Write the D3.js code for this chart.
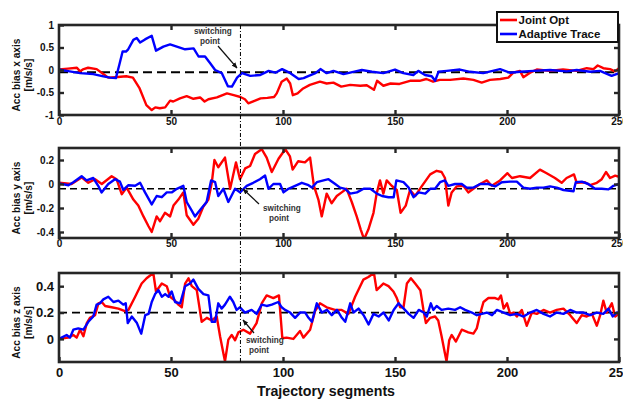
<!DOCTYPE html>
<html>
<head>
<meta charset="utf-8">
<script src="https://cdn.jsdelivr.net/npm/d3@7"></script>
<style>
  body { margin: 0; background: #fff; }
  svg { display: block; font-family: "Liberation Sans", Arial, sans-serif; font-weight: bold; }
</style>
</head>
<body>
<svg id="chart" width="623" height="402"></svg>
<script>
// ---- data: [trajectory segment, bias] ----
const jointX = [[0,0.01],[4,0.03],[8,0.05],[9.4,-0.03],[11,0.02],[13,0.05],[16.8,0.02],[19.8,-0.09],[22,-0.17],[25,-0.16],[30,-0.14],[33,-0.17],[36,-0.41],[39,-0.78],[41.4,-0.89],[43,-0.83],[45,-0.85],[47.4,-0.83],[49.6,-0.68],[51,-0.7],[54,-0.63],[57,-0.58],[60,-0.64],[63,-0.61],[65,-0.7],[66.7,-0.65],[70.5,-0.61],[75,-0.52],[78,-0.56],[81,-0.6],[83,-0.65],[84.5,-0.74],[87,-0.69],[90,-0.63],[93,-0.62],[96,-0.6],[97.2,-0.52],[99.4,-0.26],[101.7,-0.19],[103.2,-0.3],[104.4,-0.56],[106.5,-0.52],[109,-0.41],[112,-0.33],[116.5,-0.26],[119.5,-0.3],[122.5,-0.28],[126,-0.37],[130,-0.33],[134.5,-0.35],[137.4,-0.34],[140.6,-0.44],[142,-0.24],[144.8,-0.35],[148,-0.3],[152,-0.31],[156.7,-0.24],[161,-0.24],[164,-0.2],[167,-0.26],[170,-0.22],[174.6,-0.22],[180.5,-0.19],[185,-0.22],[188.7,-0.28],[192.4,-0.22],[197,-0.2],[200.6,-0.17],[202.8,-0.06],[205.8,-0.02],[207.3,-0.16],[210.3,-0.06],[213.3,0.01],[219,-0.02],[225,0.01],[231,-0.02],[235.6,0.04],[238.6,0.02],[240.5,0.1],[243,0.04],[246,0.02],[248.2,-0.03],[250,0.04]];
const adaptX = [[0,0.01],[3.4,-0.02],[9.4,-0.07],[15.3,-0.09],[19.8,-0.14],[22.8,-0.17],[25.4,-0.18],[26.9,0.11],[28.4,0.41],[29.9,0.41],[30.9,0.46],[33.2,0.67],[34.7,0.71],[36.2,0.61],[38.4,0.68],[41.4,0.76],[43.3,0.43],[46.6,0.52],[49.6,0.57],[52.6,0.52],[56.3,0.46],[60.1,0.48],[62.3,0.3],[65.2,0.3],[67.5,0.15],[69.7,0],[72.7,-0.07],[75.4,-0.36],[77.2,-0.37],[79.5,-0.17],[81.7,-0.07],[85.4,-0.13],[89.9,-0.11],[93.6,-0.02],[96.6,-0.06],[99.6,0.02],[103.3,-0.07],[107,-0.2],[109.2,-0.18],[111.5,-0.13],[114.5,-0.07],[116.7,0.02],[119.5,-0.07],[122.5,-0.02],[127,-0.09],[131.4,-0.04],[135.2,0],[139.7,-0.04],[144.8,-0.07],[150,0.01],[153.7,-0.07],[158.2,-0.11],[160.4,-0.02],[163.4,-0.11],[166.4,-0.14],[167.9,-0.24],[169.4,-0.04],[173.1,-0.02],[179,0.01],[183.5,-0.04],[189.4,-0.07],[196.9,0.02],[201.3,-0.06],[205.8,-0.04],[211.8,-0.02],[219.2,0],[226.7,-0.03],[231.1,0],[237.1,-0.04],[241.5,-0.02],[246.7,-0.13],[250,-0.07]];

const jointY = [[0,0.01],[5.6,0],[10.1,0.055],[13.1,0.01],[16.1,0.04],[19.1,0],[23.5,0.065],[25.7,0.04],[28,-0.085],[30.2,-0.03],[33.2,-0.13],[35.4,-0.18],[37.7,-0.27],[39.9,-0.35],[41.4,-0.4],[43.6,-0.27],[45.1,-0.31],[47.3,-0.24],[49.6,-0.27],[51.1,-0.18],[53.3,-0.13],[55.5,-0.07],[57,-0.26],[60,-0.34],[62.2,-0.29],[64.4,-0.19],[66.7,-0.13],[68.2,0.01],[69.4,0.2],[71.1,0.14],[74.1,0.22],[76.4,-0.04],[79,0.18],[80.8,0.04],[83.1,0.13],[85.3,0.15],[87.5,0.25],[90.5,0.29],[92.7,0.22],[95,0.1],[98,0.21],[101,0.29],[103.1,0.23],[104.3,0.12],[106.8,0.19],[109.8,0.18],[112.1,0.22],[113.8,-0.015],[115.8,-0.13],[117.3,-0.27],[119.5,-0.08],[121.7,-0.16],[124,-0.1],[126.2,-0.07],[128.4,-0.04],[130.7,-0.15],[132.9,-0.27],[134.7,-0.38],[136.2,-0.46],[138.1,-0.38],[140.4,-0.24],[141.8,-0.08],[143.3,0.03],[144.8,-0.08],[146.3,0.03],[148.5,-0.015],[150.8,-0.05],[152.5,-0.24],[154.8,-0.18],[156.7,-0.05],[159,-0.1],[161.9,-0.02],[165.7,0.08],[168.6,0.11],[170.8,0.1],[172.3,0.05],[173.8,-0.18],[175.3,-0.07],[177.5,-0.02],[180.5,-0.015],[182.7,-0.07],[185,-0.04],[188,0],[191,0.03],[193.2,-0.015],[196.9,0.03],[200.2,0.09],[202.2,0.05],[205.8,0.065],[210.3,0.05],[214.7,0.12],[217.7,0.09],[221.4,0.05],[224.4,0.01],[226.6,0.05],[229.9,0.08],[231.1,0.01],[234.8,0.015],[237.1,-0.01],[240.1,0.01],[242.3,0.04],[244.2,0.1],[246,0.05],[248.3,0.07],[250,0.06]];
const adaptY = [[0,0.005],[4.2,-0.01],[6.4,0.015],[10.1,0.065],[12.3,0.03],[15.3,0.05],[17.5,-0.015],[19,-0.07],[22,0],[25,0.04],[27.2,0.02],[28.7,-0.05],[31,-0.01],[34,-0.015],[36.2,0.01],[38.4,-0.07],[41.4,-0.17],[43.6,-0.1],[45.9,-0.11],[48.1,-0.07],[50.3,-0.07],[52.6,-0.04],[55.5,-0.015],[57,-0.15],[59.2,-0.22],[60.7,-0.27],[63.7,-0.2],[65.9,-0.15],[67.9,0.03],[69.7,0.015],[71.1,-0.1],[73.4,-0.04],[75.6,-0.15],[78.6,-0.04],[80.8,-0.07],[83.8,-0.015],[86.7,0.01],[89.7,0.04],[92,0.07],[93.5,-0.04],[95.7,0],[98.7,0],[100.2,-0.07],[102.4,-0.04],[105.4,-0.015],[108.4,0.01],[111.4,-0.01],[112.9,-0.03],[115.1,0.015],[118.1,0.03],[120.3,0.04],[123.3,0],[125.5,-0.03],[127.8,-0.04],[130,-0.08],[133,-0.07],[136,-0.04],[139,-0.04],[141.9,-0.08],[144.2,-0.1],[147.1,-0.11],[149.4,-0.11],[150.6,0.03],[153.8,0.015],[156.1,-0.03],[158.3,-0.11],[160.6,-0.07],[163.5,-0.08],[165.7,-0.04],[167.9,-0.04],[170.1,0.015],[172.3,0.03],[173.8,-0.015],[176.8,0],[179.8,0],[182,-0.03],[185,-0.03],[188,0],[191.7,0],[194.7,-0.02],[197.7,0.015],[201.4,0.02],[204.4,0.02],[207.3,-0.03],[210.3,-0.04],[213.3,-0.03],[216.3,-0.03],[219.2,-0.02],[222.2,-0.03],[225.2,-0.05],[229.7,-0.06],[230.7,0.015],[233.4,0.02],[236.3,0],[239.3,-0.04],[242.3,-0.04],[245.3,-0.045],[247.5,-0.015],[250,0]];

const jointZ = [[0,0],[4.2,0.01],[6.4,0.03],[7.9,0.01],[9.4,0.07],[10.9,0.02],[12.4,0.12],[13.8,0.16],[16.1,0.18],[17.6,0.27],[19.1,0.28],[20.6,0.25],[23.5,0.24],[26.5,0.23],[29.5,0.21],[31,0.22],[34,0.32],[36.9,0.42],[39.1,0.46],[42.1,0.5],[43.3,0.36],[45.9,0.42],[48.1,0.4],[49.6,0.32],[51.8,0.29],[53.3,0.26],[54.8,0.24],[56.3,0.42],[57.8,0.46],[59.3,0.4],[61.5,0.37],[63.7,0.13],[66,0.16],[68.2,0.14],[70.4,0.17],[71.9,0.02],[73.4,-0.11],[74.1,-0.17],[75.6,-0.005],[77.1,0.03],[78.6,-0.01],[80.1,0.05],[82.3,0.07],[85.3,0.04],[88.2,0.12],[90.5,0.27],[92.7,0.33],[95.7,0.31],[98.2,0.33],[99.7,0.005],[101.6,0.01],[104.6,0],[107.6,0.06],[109.1,0.01],[112.1,0.07],[114.3,0.21],[116.5,0.27],[119.5,0.24],[123.2,0.22],[126.2,0.22],[129.2,0.19],[132.2,0.32],[135.9,0.45],[138.1,0.47],[140.6,0.5],[141.8,0.37],[144.8,0.42],[147.1,0.4],[149.3,0.36],[150.8,0.31],[152.3,0.24],[153.8,0.24],[155.3,0.42],[157.1,0.46],[159,0.42],[161.3,0.37],[162.7,0.22],[163.8,0.12],[165.7,0.16],[167.9,0.17],[169.3,0.14],[170.8,0.02],[172.3,-0.11],[173,-0.17],[174.2,-0.01],[175.3,0.03],[177.2,-0.02],[179.8,0.07],[182.7,0.05],[185,0.04],[186.5,0.08],[188,0.19],[189.5,0.28],[191.7,0.31],[194.7,0.31],[196.2,0.3],[197.3,0.33],[198.5,0.23],[200,0.27],[201.4,0.19],[202.9,0.2],[204.4,0.17],[206.6,0.22],[208.8,0.1],[211.1,0.2],[213.3,0.19],[216.3,0.22],[219.2,0.2],[222.2,0.22],[225.2,0.23],[228.2,0.18],[231.1,0.12],[233.4,0.18],[235.6,0.17],[237.9,0.19],[240.1,0.1],[241.6,0.18],[243,0.29],[244.5,0.2],[246.8,0.27],[248.3,0.17],[250,0.19]];
const adaptZ = [[0,0],[3.4,0.03],[4.9,0.01],[6.4,0.07],[8.6,0.08],[10.9,0.07],[13.1,0.13],[15.3,0.17],[16.8,0.26],[18.3,0.27],[19.8,0.3],[22,0.32],[24.3,0.28],[26.5,0.29],[28.7,0.26],[29.8,0.27],[30.7,0.12],[32.5,0.17],[34.8,0.12],[36.7,0.04],[38.5,0.18],[40,0.19],[41.4,0.28],[42.9,0.34],[44.4,0.37],[45.9,0.32],[47.4,0.34],[48.9,0.32],[50.3,0.36],[51.8,0.28],[54.1,0.27],[56.3,0.4],[58.5,0.42],[60,0.45],[62.2,0.38],[64.5,0.34],[66.7,0.33],[68.2,0.13],[69.7,0.13],[71.1,0.27],[72.6,0.23],[74.1,0.26],[76.3,0.32],[77.8,0.28],[79.3,0.22],[80.8,0.24],[83,0.2],[86,0.22],[88.2,0.19],[90.5,0.26],[92.7,0.25],[95,0.26],[97.9,0.28],[99.4,0.24],[100.9,0.22],[103.2,0.2],[105.4,0.16],[107.6,0.2],[109.9,0.2],[111.4,0.16],[112.9,0.13],[115.1,0.27],[117.4,0.2],[119.6,0.22],[121.8,0.18],[124.1,0.22],[126.3,0.16],[127.8,0.13],[130,0.27],[131.5,0.2],[133.7,0.23],[136,0.18],[138.2,0.11],[140.4,0.19],[142.7,0.17],[144.9,0.2],[147.2,0.14],[149.4,0.22],[151.6,0.27],[153.9,0.23],[156.1,0.19],[158.3,0.16],[160.6,0.22],[162.8,0.2],[164.2,0.17],[166,0.27],[167.1,0.22],[168.6,0.25],[170.8,0.22],[173.8,0.23],[176.8,0.22],[179.1,0.24],[181.3,0.22],[184.3,0.2],[186.5,0.18],[188.8,0.19],[191,0.2],[193.3,0.18],[195.5,0.22],[198.5,0.2],[201.4,0.18],[204.4,0.19],[207.4,0.17],[210.3,0.2],[213.3,0.22],[216.3,0.19],[219.2,0.17],[222.2,0.2],[225.2,0.19],[228.2,0.22],[231.1,0.2],[234.1,0.2],[237.1,0.18],[240.1,0.2],[243,0.19],[245.3,0.23],[247.2,0.17],[249,0.2],[250,0.2]];

// reference (dashed) level of each axis, and switching segment
const refLevels = [-0.05, -0.04, 0.2];
const switchSeg = 81;

const xTicks = [0, 50, 100, 150, 200, 250];
const yTicksX = [-1, -0.5, 0, 0.5, 1];
const yTicksY = [-0.4, -0.2, 0, 0.2];
const yTicksZ = [0, 0.2, 0.4];
const axisNames = ["Acc bias x axis", "Acc bias y axis", "Acc bias z axis"];
const seriesNames = ["Joint Opt", "Adaptive Trace"];
const seriesColors = ["#ff0000", "#0000ff"];

// ---- layout ----
const svg = d3.select("#chart");
const left = 59, right = 619;
const x = d3.scaleLinear().domain([0, 250]).range([left, right]);

const panels = [
  { top: 25,  bottom: 115, domain: [-1, 1],      ticks: yTicksX, joint: jointX, adapt: adaptX, fs: 10, xPad: 3, dash: "9,5", dw: 2 },
  { top: 148, bottom: 238, domain: [-0.45, 0.3], ticks: yTicksY, joint: jointY, adapt: adaptY, fs: 10, xPad: 2, dash: "7,4", dw: 1.6 },
  { top: 273, bottom: 362, domain: [-0.175, 0.5], ticks: yTicksZ, joint: jointZ, adapt: adaptZ, fs: 13, xPad: 6, dash: "8,5", dw: 1.8 }
];

const frameColor = "#262626";

panels.forEach((p, i) => {
  const y = d3.scaleLinear().domain(p.domain).range([p.bottom, p.top]);
  const g = svg.append("g");

  g.append("clipPath").attr("id", "clip" + i)
    .append("rect").attr("x", left).attr("y", p.top)
    .attr("width", right - left).attr("height", p.bottom - p.top);

  const plot = g.append("g").attr("clip-path", `url(#clip${i})`);

  // dashed reference level
  plot.append("line")
    .attr("x1", x(0)).attr("x2", x(250))
    .attr("y1", y(refLevels[i])).attr("y2", y(refLevels[i]))
    .attr("stroke", "#000").attr("stroke-width", p.dw)
    .attr("stroke-dasharray", p.dash);

  const line = d3.line().x(d => x(d[0])).y(d => y(d[1]));
  [p.joint, p.adapt].forEach((s, k) => {
    plot.append("path").datum(s)
      .attr("d", line)
      .attr("fill", "none")
      .attr("stroke", seriesColors[k])
      .attr("stroke-width", 2.4)
      .attr("stroke-linejoin", "round");
  });

  // axes with inward ticks, mirrored on top/right
  const fmt = d => String(d);
  const styleAxis = sel => {
    sel.select(".domain").remove();
    sel.selectAll("line").attr("stroke", frameColor).attr("stroke-width", 2.4);
    sel.selectAll("text").attr("fill", "#111").attr("font-size", p.fs)
      .attr("font-family", '"Liberation Sans", Arial, sans-serif').attr("font-weight", "bold");
  };
  g.append("g").attr("transform", `translate(0,${p.bottom})`)
    .call(d3.axisBottom(x).tickValues(xTicks).tickFormat(fmt).tickSize(-5).tickPadding(p.xPad))
    .call(styleAxis);
  g.append("g").attr("transform", `translate(0,${p.top})`)
    .call(d3.axisTop(x).tickValues(xTicks.slice(1, -1)).tickFormat("").tickSize(-5))
    .call(styleAxis);
  g.append("g").attr("transform", `translate(${left},0)`)
    .call(d3.axisLeft(y).tickValues(p.ticks).tickFormat(fmt).tickSize(-5).tickPadding(5))
    .call(styleAxis);
  g.append("g").attr("transform", `translate(${right},0)`)
    .call(d3.axisRight(y).tickValues(p.ticks).tickFormat("").tickSize(-5))
    .call(styleAxis);

  g.append("rect")
    .attr("x", left).attr("y", p.top)
    .attr("width", right - left).attr("height", p.bottom - p.top)
    .attr("fill", "none").attr("stroke", frameColor).attr("stroke-width", 2.6);

  // y label, two lines
  const cy = (p.top + p.bottom) / 2 + 5;
  const lab = g.append("text").attr("transform", `translate(20,${cy}) rotate(-90)`)
    .attr("text-anchor", "middle").attr("font-size", 10.2).attr("fill", "#111");
  lab.append("tspan").attr("x", 0).attr("y", 0).text(axisNames[i]);
  lab.append("tspan").attr("x", 0).attr("y", 12).text("[m/s/s]");
});

// switching point vertical line
svg.append("line")
  .attr("x1", x(switchSeg)).attr("x2", x(switchSeg))
  .attr("y1", panels[0].top).attr("y2", panels[2].bottom)
  .attr("stroke", "#000").attr("stroke-width", 1)
  .attr("stroke-dasharray", "4,2,1,2");

// annotations
svg.append("defs").append("marker")
  .attr("id", "arrow").attr("viewBox", "0 0 10 10")
  .attr("refX", 9).attr("refY", 5)
  .attr("markerWidth", 5).attr("markerHeight", 5)
  .attr("orient", "auto")
  .append("path").attr("d", "M0,1L10,5L0,9z").attr("fill", "#111");

const notes = [
  { tx: 194, ty: 34, px: 200, py: 44, a: [218, 46, 237, 68] },
  { tx: 263, ty: 211, px: 269, py: 221, a: [259, 204, 243, 189] },
  { tx: 246, ty: 343, px: 249, py: 353, a: [254, 333, 243, 320] }
];
notes.forEach(n => {
  svg.append("text").attr("x", n.tx).attr("y", n.ty).attr("font-size", 8.2).attr("fill", "#333").text("switching");
  svg.append("text").attr("x", n.px).attr("y", n.py).attr("font-size", 8.2).attr("fill", "#333").text("point");
  svg.append("line")
    .attr("x1", n.a[0]).attr("y1", n.a[1]).attr("x2", n.a[2]).attr("y2", n.a[3])
    .attr("stroke", "#111").attr("stroke-width", 1.2)
    .attr("marker-end", "url(#arrow)");
});

// x title
svg.append("text").attr("x", 326).attr("y", 396)
  .attr("text-anchor", "middle").attr("font-size", 14.2).attr("fill", "#111")
  .text("Trajectory segments");

// legend
const lg = svg.append("g");
lg.append("rect").attr("x", 497).attr("y", 12).attr("width", 121).attr("height", 30)
  .attr("fill", "#fff").attr("stroke", "#111").attr("stroke-width", 2);
seriesNames.forEach((name, k) => {
  const yy = 20 + k * 14;
  lg.append("line").attr("x1", 500).attr("x2", 517).attr("y1", yy).attr("y2", yy)
    .attr("stroke", seriesColors[k]).attr("stroke-width", 2.6);
  lg.append("text").attr("x", 518.5).attr("y", yy + 4).attr("font-size", 11.5)
    .attr("fill", "#111").text(name);
});
</script>
</body>
</html>
